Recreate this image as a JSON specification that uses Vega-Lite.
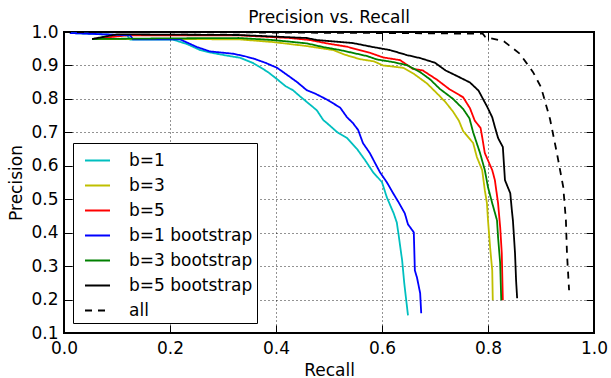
{
  "$schema": "https://vega.github.io/schema/vega-lite/v6.json",
  "width": 530,
  "height": 301,
  "autosize": {"type": "none"},
  "padding": {"left": 64, "top": 32, "right": 17, "bottom": 45},
  "title": {"text": "Precision vs. Recall", "font": "DejaVu Sans", "fontSize": 17, "fontWeight": "normal", "color": "black", "offset": -4},
  "data": {"values": [
    {"s":"b=1","r":0.011,"p":0.997},{"s":"b=1","r":0.119,"p":0.99},{"s":"b=1","r":0.125,"p":0.977},{"s":"b=1","r":0.206,"p":0.977},{"s":"b=1","r":0.232,"p":0.964},{"s":"b=1","r":0.257,"p":0.946},{"s":"b=1","r":0.275,"p":0.939},{"s":"b=1","r":0.305,"p":0.93},{"s":"b=1","r":0.332,"p":0.923},{"s":"b=1","r":0.357,"p":0.907},{"s":"b=1","r":0.37,"p":0.895},{"s":"b=1","r":0.385,"p":0.88},{"s":"b=1","r":0.402,"p":0.859},{"s":"b=1","r":0.418,"p":0.838},{"s":"b=1","r":0.432,"p":0.826},{"s":"b=1","r":0.445,"p":0.808},{"s":"b=1","r":0.458,"p":0.791},{"s":"b=1","r":0.477,"p":0.766},{"s":"b=1","r":0.489,"p":0.737},{"s":"b=1","r":0.498,"p":0.725},{"s":"b=1","r":0.515,"p":0.701},{"s":"b=1","r":0.534,"p":0.683},{"s":"b=1","r":0.553,"p":0.65},{"s":"b=1","r":0.568,"p":0.617},{"s":"b=1","r":0.583,"p":0.581},{"s":"b=1","r":0.6,"p":0.551},{"s":"b=1","r":0.609,"p":0.506},{"s":"b=1","r":0.616,"p":0.48},{"s":"b=1","r":0.622,"p":0.458},{"s":"b=1","r":0.628,"p":0.43},{"s":"b=1","r":0.632,"p":0.386},{"s":"b=1","r":0.638,"p":0.317},{"s":"b=1","r":0.642,"p":0.249},{"s":"b=1","r":0.649,"p":0.153},
    {"s":"b=3","r":0.053,"p":0.979},{"s":"b=3","r":0.2,"p":0.979},{"s":"b=3","r":0.33,"p":0.978},{"s":"b=3","r":0.394,"p":0.97},{"s":"b=3","r":0.458,"p":0.958},{"s":"b=3","r":0.508,"p":0.946},{"s":"b=3","r":0.53,"p":0.932},{"s":"b=3","r":0.558,"p":0.919},{"s":"b=3","r":0.585,"p":0.912},{"s":"b=3","r":0.602,"p":0.9},{"s":"b=3","r":0.64,"p":0.893},{"s":"b=3","r":0.66,"p":0.875},{"s":"b=3","r":0.685,"p":0.846},{"s":"b=3","r":0.706,"p":0.813},{"s":"b=3","r":0.72,"p":0.79},{"s":"b=3","r":0.734,"p":0.762},{"s":"b=3","r":0.745,"p":0.735},{"s":"b=3","r":0.753,"p":0.704},{"s":"b=3","r":0.772,"p":0.668},{"s":"b=3","r":0.779,"p":0.626},{"s":"b=3","r":0.789,"p":0.587},{"s":"b=3","r":0.794,"p":0.527},{"s":"b=3","r":0.798,"p":0.488},{"s":"b=3","r":0.8,"p":0.437},{"s":"b=3","r":0.804,"p":0.356},{"s":"b=3","r":0.808,"p":0.287},{"s":"b=3","r":0.809,"p":0.198},
    {"s":"b=5","r":0.053,"p":0.979},{"s":"b=5","r":0.12,"p":0.99},{"s":"b=5","r":0.33,"p":0.99},{"s":"b=5","r":0.426,"p":0.982},{"s":"b=5","r":0.464,"p":0.976},{"s":"b=5","r":0.496,"p":0.966},{"s":"b=5","r":0.534,"p":0.956},{"s":"b=5","r":0.577,"p":0.938},{"s":"b=5","r":0.602,"p":0.924},{"s":"b=5","r":0.634,"p":0.916},{"s":"b=5","r":0.658,"p":0.89},{"s":"b=5","r":0.677,"p":0.885},{"s":"b=5","r":0.704,"p":0.857},{"s":"b=5","r":0.728,"p":0.828},{"s":"b=5","r":0.753,"p":0.805},{"s":"b=5","r":0.766,"p":0.772},{"s":"b=5","r":0.775,"p":0.735},{"s":"b=5","r":0.786,"p":0.713},{"s":"b=5","r":0.789,"p":0.686},{"s":"b=5","r":0.794,"p":0.638},{"s":"b=5","r":0.808,"p":0.587},{"s":"b=5","r":0.813,"p":0.557},{"s":"b=5","r":0.819,"p":0.488},{"s":"b=5","r":0.823,"p":0.416},{"s":"b=5","r":0.826,"p":0.338},{"s":"b=5","r":0.828,"p":0.198},
    {"s":"b=1 bootstrap","r":0.011,"p":0.997},{"s":"b=1 bootstrap","r":0.125,"p":0.99},{"s":"b=1 bootstrap","r":0.13,"p":0.978},{"s":"b=1 bootstrap","r":0.219,"p":0.978},{"s":"b=1 bootstrap","r":0.251,"p":0.955},{"s":"b=1 bootstrap","r":0.275,"p":0.942},{"s":"b=1 bootstrap","r":0.319,"p":0.935},{"s":"b=1 bootstrap","r":0.34,"p":0.928},{"s":"b=1 bootstrap","r":0.357,"p":0.921},{"s":"b=1 bootstrap","r":0.38,"p":0.908},{"s":"b=1 bootstrap","r":0.402,"p":0.893},{"s":"b=1 bootstrap","r":0.426,"p":0.866},{"s":"b=1 bootstrap","r":0.44,"p":0.85},{"s":"b=1 bootstrap","r":0.458,"p":0.826},{"s":"b=1 bootstrap","r":0.475,"p":0.815},{"s":"b=1 bootstrap","r":0.496,"p":0.798},{"s":"b=1 bootstrap","r":0.521,"p":0.774},{"s":"b=1 bootstrap","r":0.534,"p":0.745},{"s":"b=1 bootstrap","r":0.545,"p":0.728},{"s":"b=1 bootstrap","r":0.555,"p":0.707},{"s":"b=1 bootstrap","r":0.564,"p":0.668},{"s":"b=1 bootstrap","r":0.577,"p":0.638},{"s":"b=1 bootstrap","r":0.587,"p":0.608},{"s":"b=1 bootstrap","r":0.596,"p":0.581},{"s":"b=1 bootstrap","r":0.609,"p":0.551},{"s":"b=1 bootstrap","r":0.621,"p":0.518},{"s":"b=1 bootstrap","r":0.632,"p":0.489},{"s":"b=1 bootstrap","r":0.643,"p":0.458},{"s":"b=1 bootstrap","r":0.649,"p":0.425},{"s":"b=1 bootstrap","r":0.66,"p":0.401},{"s":"b=1 bootstrap","r":0.662,"p":0.287},{"s":"b=1 bootstrap","r":0.666,"p":0.266},{"s":"b=1 bootstrap","r":0.672,"p":0.219},{"s":"b=1 bootstrap","r":0.674,"p":0.159},
    {"s":"b=3 bootstrap","r":0.053,"p":0.979},{"s":"b=3 bootstrap","r":0.2,"p":0.981},{"s":"b=3 bootstrap","r":0.33,"p":0.982},{"s":"b=3 bootstrap","r":0.394,"p":0.976},{"s":"b=3 bootstrap","r":0.458,"p":0.966},{"s":"b=3 bootstrap","r":0.489,"p":0.955},{"s":"b=3 bootstrap","r":0.521,"p":0.946},{"s":"b=3 bootstrap","r":0.572,"p":0.928},{"s":"b=3 bootstrap","r":0.59,"p":0.918},{"s":"b=3 bootstrap","r":0.621,"p":0.91},{"s":"b=3 bootstrap","r":0.647,"p":0.901},{"s":"b=3 bootstrap","r":0.672,"p":0.88},{"s":"b=3 bootstrap","r":0.691,"p":0.858},{"s":"b=3 bootstrap","r":0.709,"p":0.83},{"s":"b=3 bootstrap","r":0.734,"p":0.8},{"s":"b=3 bootstrap","r":0.753,"p":0.77},{"s":"b=3 bootstrap","r":0.765,"p":0.742},{"s":"b=3 bootstrap","r":0.772,"p":0.7},{"s":"b=3 bootstrap","r":0.785,"p":0.638},{"s":"b=3 bootstrap","r":0.794,"p":0.587},{"s":"b=3 bootstrap","r":0.8,"p":0.536},{"s":"b=3 bootstrap","r":0.808,"p":0.488},{"s":"b=3 bootstrap","r":0.817,"p":0.437},{"s":"b=3 bootstrap","r":0.819,"p":0.386},{"s":"b=3 bootstrap","r":0.823,"p":0.308},{"s":"b=3 bootstrap","r":0.825,"p":0.198},
    {"s":"b=5 bootstrap","r":0.053,"p":0.979},{"s":"b=5 bootstrap","r":0.1,"p":0.993},{"s":"b=5 bootstrap","r":0.33,"p":0.991},{"s":"b=5 bootstrap","r":0.458,"p":0.982},{"s":"b=5 bootstrap","r":0.477,"p":0.976},{"s":"b=5 bootstrap","r":0.545,"p":0.967},{"s":"b=5 bootstrap","r":0.583,"p":0.955},{"s":"b=5 bootstrap","r":0.615,"p":0.946},{"s":"b=5 bootstrap","r":0.647,"p":0.931},{"s":"b=5 bootstrap","r":0.672,"p":0.922},{"s":"b=5 bootstrap","r":0.7,"p":0.908},{"s":"b=5 bootstrap","r":0.72,"p":0.885},{"s":"b=5 bootstrap","r":0.742,"p":0.868},{"s":"b=5 bootstrap","r":0.766,"p":0.849},{"s":"b=5 bootstrap","r":0.782,"p":0.825},{"s":"b=5 bootstrap","r":0.798,"p":0.778},{"s":"b=5 bootstrap","r":0.808,"p":0.745},{"s":"b=5 bootstrap","r":0.813,"p":0.716},{"s":"b=5 bootstrap","r":0.819,"p":0.683},{"s":"b=5 bootstrap","r":0.828,"p":0.656},{"s":"b=5 bootstrap","r":0.832,"p":0.557},{"s":"b=5 bootstrap","r":0.842,"p":0.518},{"s":"b=5 bootstrap","r":0.845,"p":0.467},{"s":"b=5 bootstrap","r":0.847,"p":0.437},{"s":"b=5 bootstrap","r":0.851,"p":0.338},{"s":"b=5 bootstrap","r":0.853,"p":0.257},{"s":"b=5 bootstrap","r":0.855,"p":0.204},
    {"s":"all","r":0.0,"p":1.0},{"s":"all","r":0.3,"p":0.999},{"s":"all","r":0.6,"p":0.997},{"s":"all","r":0.79,"p":0.995},{"s":"all","r":0.795,"p":0.985},{"s":"all","r":0.83,"p":0.972},{"s":"all","r":0.86,"p":0.935},{"s":"all","r":0.885,"p":0.88},{"s":"all","r":0.9,"p":0.835},{"s":"all","r":0.917,"p":0.74},{"s":"all","r":0.93,"p":0.638},{"s":"all","r":0.942,"p":0.536},{"s":"all","r":0.947,"p":0.437},{"s":"all","r":0.949,"p":0.338},{"s":"all","r":0.953,"p":0.228}
  ]},
  "layer": [
    {
      "mark": {"type": "line", "strokeWidth": 1.8, "clip": true},
      "encoding": {
        "x": {"field": "r", "type": "quantitative", "scale": {"domain": [0, 1], "nice": false, "zero": false},
              "axis": {"orient": "bottom", "values": [0, 0.2, 0.4, 0.6, 0.8, 1], "format": ".1f", "title": "Recall", "grid": true, "domain": false, "tickSize": -8, "labelPadding": 15, "titlePadding": 6, "labelFlush": false}},
        "y": {"field": "p", "type": "quantitative", "scale": {"domain": [0.1, 1], "nice": false, "zero": false},
              "axis": {"orient": "left", "values": [0.1, 0.2, 0.3, 0.4, 0.5, 0.6, 0.7, 0.8, 0.9, 1.0], "format": ".1f", "title": "Precision", "grid": true, "domain": false, "tickSize": -8, "labelPadding": 14, "titlePadding": 5, "labelFlush": false}},
        "color": {"field": "s", "type": "nominal",
                  "scale": {"domain": ["b=1", "b=3", "b=5", "b=1 bootstrap", "b=3 bootstrap", "b=5 bootstrap", "all"],
                            "range": ["#00BFBF", "#BFBF00", "#FF0000", "#0000FF", "#008000", "#000000", "#000000"]},
                  "legend": {"orient": "none", "legendX": 9, "legendY": 111, "title": null, "padding": 4, "strokeColor": "black", "fillColor": "white", "symbolType": "stroke", "symbolSize": 625, "symbolStrokeWidth": 2, "labelFont": "DejaVu Sans", "labelFontSize": 17, "labelColor": "black", "rowPadding": 3, "labelOffset": 18, "symbolOffset": 7, "cornerRadius": 0}},
        "strokeDash": {"field": "s", "type": "nominal",
                  "scale": {"domain": ["b=1", "b=3", "b=5", "b=1 bootstrap", "b=3 bootstrap", "b=5 bootstrap", "all"],
                            "range": [[1, 0], [1, 0], [1, 0], [1, 0], [1, 0], [1, 0], [7, 6]]},
                  "legend": {"orient": "none", "legendX": 9, "legendY": 111, "title": null, "padding": 4, "strokeColor": "black", "fillColor": "white", "symbolType": "stroke", "symbolSize": 625, "symbolStrokeWidth": 2, "labelFont": "DejaVu Sans", "labelFontSize": 17, "labelColor": "black", "rowPadding": 3, "labelOffset": 18, "symbolOffset": 7, "cornerRadius": 0}},
        "order": {"value": null}
      }
    },
    {
      "mark": {"type": "line", "opacity": 0},
      "encoding": {
        "x": {"field": "r", "type": "quantitative", "scale": {"domain": [0, 1], "nice": false, "zero": false}, "axis": {"orient": "top", "values": [0, 0.2, 0.4, 0.6, 0.8, 1], "labels": false, "title": null, "grid": false, "domain": false, "tickSize": -8}},
        "y": {"field": "p", "type": "quantitative", "scale": {"domain": [0.1, 1], "nice": false, "zero": false}, "axis": {"orient": "right", "values": [0.1, 0.2, 0.3, 0.4, 0.5, 0.6, 0.7, 0.8, 0.9, 1.0], "labels": false, "title": null, "grid": false, "domain": false, "tickSize": -8}},
        "detail": {"field": "s", "type": "nominal"}
      }
    }
  ],
  "resolve": {"axis": {"x": "independent", "y": "independent"}},
  "config": {
    "view": {"stroke": "black", "strokeWidth": 2},
    "axis": {"labelFont": "DejaVu Sans", "labelFontSize": 17, "labelColor": "black", "titleFont": "DejaVu Sans", "titleFontSize": 17, "titleFontWeight": "normal", "titleColor": "black", "tickColor": "black", "tickWidth": 1, "gridColor": "black", "gridDash": [1, 3], "gridOpacity": 0.85, "gridWidth": 1}
  }
}
